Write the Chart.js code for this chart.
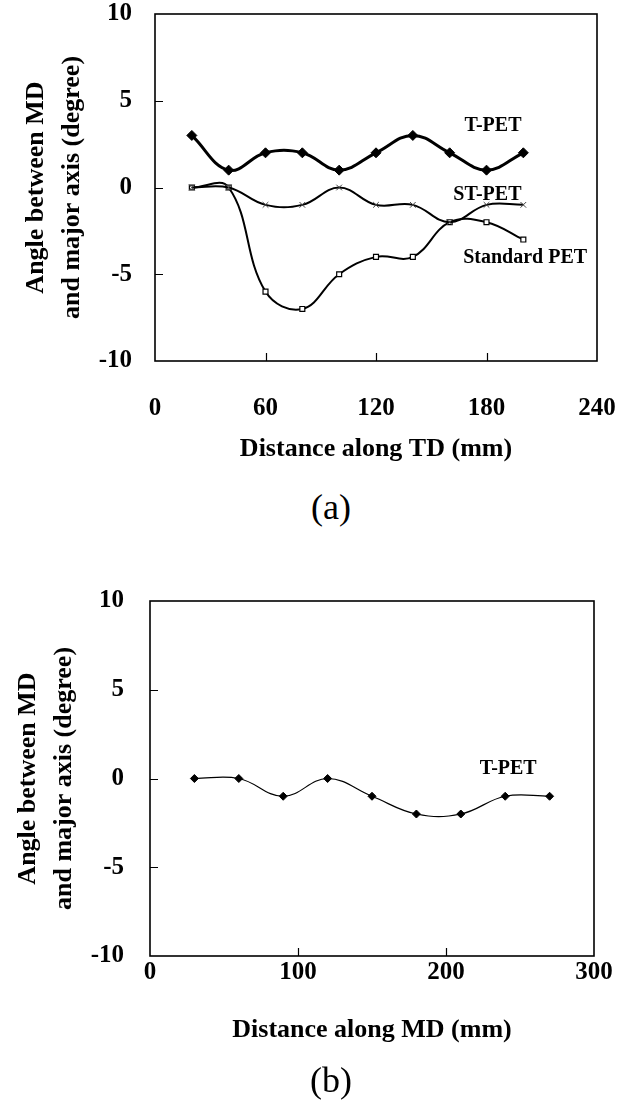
<!DOCTYPE html>
<html><head><meta charset="utf-8">
<script src="https://cdn.jsdelivr.net/npm/chart.js@4.4.0/dist/chart.umd.min.js"></script>
<style>
html,body{margin:0;padding:0;background:#fff;}
body{width:618px;height:1114px;position:relative;overflow:hidden;}
canvas{position:absolute;left:0;}
#ca{top:0;}
#cb{top:560px;}
.cap{position:absolute;left:0;width:618px;text-align:center;font-family:'Liberation Serif','Times New Roman',serif;font-size:36px;line-height:40px;color:#000;padding-left:44px;box-sizing:border-box;}
</style></head><body>
<canvas id="ca" width="618" height="470"></canvas>
<canvas id="cb" width="618" height="554"></canvas>
<div class="cap" style="top:487px;">(a)</div>
<div class="cap" style="top:1060px;">(b)</div>
<script>
// ---- data ----
const tdPositions = [20, 40, 60, 80, 100, 120, 140, 160, 180, 200];
const tpetTD   = [3, 1, 2, 2, 1, 2, 3, 2, 1, 2];
const stpetTD  = [0, 0, -1, -1, 0, -1, -1, -2, -1, -1];
const stdpetTD = [0, 0, -6, -7, -5, -4, -4, -2, -2, -3];

const mdPositions = [30, 60, 90, 120, 150, 180, 210, 240, 270];
const tpetMD = [0, 0, -1, 0, -1, -2, -2, -1, -1];

const yTicks  = [-10, -5, 0, 5, 10];
const tdTicks = [0, 60, 120, 180, 240];
const mdTicks = [0, 100, 200, 300];

const seriesNamesA = ['T-PET', 'ST-PET', 'Standard PET'];
const seriesNamesB = ['T-PET'];
// label anchor points in data units
const labelsA = [
  {text: 'T-PET', x: 183.5, y: 3.55},
  {text: 'ST-PET', x: 180.5, y: -0.42},
  {text: 'Standard PET', x: 201, y: -4.05}
];
const labelsB = [{text: 'T-PET', x: 242, y: 0.55}];

const pts = (xs, ys) => xs.map((x, i) => ({x, y: ys[i]}));

const SERIF = "'Liberation Serif','Times New Roman',serif";

const frameTicks = {
  id: 'frameTicks',
  afterDatasetsDraw(chart, args, opts) {
    const {ctx, chartArea: a, scales} = chart;
    ctx.save();
    ctx.strokeStyle = '#000';
    ctx.lineWidth = 1.6;
    ctx.strokeRect(a.left, a.top, a.right - a.left, a.bottom - a.top);
    ctx.lineWidth = 1.2;
    ctx.beginPath();
    const L = 8;
    scales.y.ticks.forEach(t => {
      if (t.value === scales.y.min || t.value === scales.y.max) return;
      const py = Math.round(scales.y.getPixelForValue(t.value)) + 0.5;
      ctx.moveTo(a.left, py); ctx.lineTo(a.left + L, py);
    });
    scales.x.ticks.forEach(t => {
      if (t.value === scales.x.min || t.value === scales.x.max) return;
      const px = Math.round(scales.x.getPixelForValue(t.value)) + 0.5;
      ctx.moveTo(px, a.bottom); ctx.lineTo(px, a.bottom - L);
    });
    ctx.stroke();
    ctx.restore();
  },
  afterDraw(chart, args, opts) {
    const {ctx, scales} = chart;
    ctx.save();
    ctx.fillStyle = '#000';
    ctx.font = 'bold 20px ' + SERIF;
    ctx.textAlign = 'center';
    ctx.textBaseline = 'middle';
    (opts.labels || []).forEach(l => {
      ctx.fillText(l.text, scales.x.getPixelForValue(l.x), scales.y.getPixelForValue(l.y));
    });
    ctx.restore();
  }
};

function zeroPad(s) { s.paddingLeft = 0; s.paddingRight = 0; s.paddingTop = 0; s.paddingBottom = 0; }

function makeOptions(cfg) {
  return {
    responsive: false,
    animation: false,
    devicePixelRatio: 1,
    layout: {padding: {left: 0, top: cfg.top, right: cfg.right, bottom: 0}},
    plugins: {
      legend: {display: false},
      tooltip: {enabled: false},
      frameTicks: {labels: cfg.labels}
    },
    scales: {
      x: {
        type: 'linear', min: cfg.xTicks[0], max: cfg.xTicks[cfg.xTicks.length - 1],
        grid: {display: false, drawTicks: false},
        border: {display: false},
        afterBuildTicks: s => { s.ticks = cfg.xTicks.map(v => ({value: v})); },
        afterFit: s => { s.height = cfg.xHeight; zeroPad(s); },
        ticks: {color: '#000', padding: cfg.xTickPad, maxRotation: 0, autoSkip: false,
                font: {family: SERIF, size: 25, weight: 'bold'}},
        title: {display: true, text: cfg.xTitle, color: '#000',
                padding: {top: 0, bottom: cfg.xTitlePad},
                font: {family: SERIF, size: 26, weight: 'bold', lineHeight: 1.2}}
      },
      y: {
        type: 'linear', min: -10, max: 10,
        grid: {display: false, drawTicks: false},
        border: {display: false},
        afterBuildTicks: s => { s.ticks = yTicks.map(v => ({value: v})); },
        afterFit: s => { s.width = cfg.yWidth; zeroPad(s); },
        ticks: {color: '#000', padding: cfg.yTickPad, autoSkip: false,
                font: {family: SERIF, size: 25, weight: 'bold'}},
        title: {display: true, text: ['Angle between MD', 'and major axis (degree)'], color: '#000',
                padding: {top: cfg.yTitlePad, bottom: 0},
                font: {family: SERIF, size: 26, weight: 'bold', lineHeight: 36 / 26}}
      }
    }
  };
}

new Chart(document.getElementById('ca'), {
  type: 'line',
  data: {
    datasets: [
      {label: seriesNamesA[0], data: pts(tdPositions, tpetTD), borderColor: '#000', borderWidth: 3,
       tension: 0.4, pointStyle: 'rectRot', pointRadius: 5, pointBackgroundColor: '#000',
       pointBorderColor: '#000', pointBorderWidth: 1},
      {label: seriesNamesA[1], data: pts(tdPositions, stpetTD), borderColor: '#000', borderWidth: 2,
       tension: 0.4, pointStyle: 'crossRot', pointRadius: 4, pointBorderColor: '#444',
       pointBorderWidth: 1},
      {label: seriesNamesA[2], data: pts(tdPositions, stdpetTD), borderColor: '#000', borderWidth: 2,
       tension: 0.4, pointStyle: 'rect', pointRadius: 3.5, pointBackgroundColor: '#fff',
       pointBorderColor: '#000', pointBorderWidth: 1.2}
    ]
  },
  options: makeOptions({top: 14, right: 21, xTicks: tdTicks, xHeight: 109, xTickPad: 33,
    xTitle: 'Distance along TD (mm)', xTitlePad: 5, yWidth: 155, yTickPad: 23, yTitlePad: 18,
    labels: labelsA}),
  plugins: [frameTicks]
});

new Chart(document.getElementById('cb'), {
  type: 'line',
  data: {
    datasets: [
      {label: seriesNamesB[0], data: pts(mdPositions, tpetMD), borderColor: '#000', borderWidth: 1.2,
       tension: 0.4, pointStyle: 'rectRot', pointRadius: 4, pointBackgroundColor: '#000',
       pointBorderColor: '#000', pointBorderWidth: 1}
    ]
  },
  options: makeOptions({top: 41, right: 24, xTicks: mdTicks, xHeight: 158, xTickPad: 2,
    xTitle: 'Distance along MD (mm)', xTitlePad: 68, yWidth: 150, yTickPad: 26, yTitlePad: 10,
    labels: labelsB}),
  plugins: [frameTicks]
});
</script>
</body></html>
